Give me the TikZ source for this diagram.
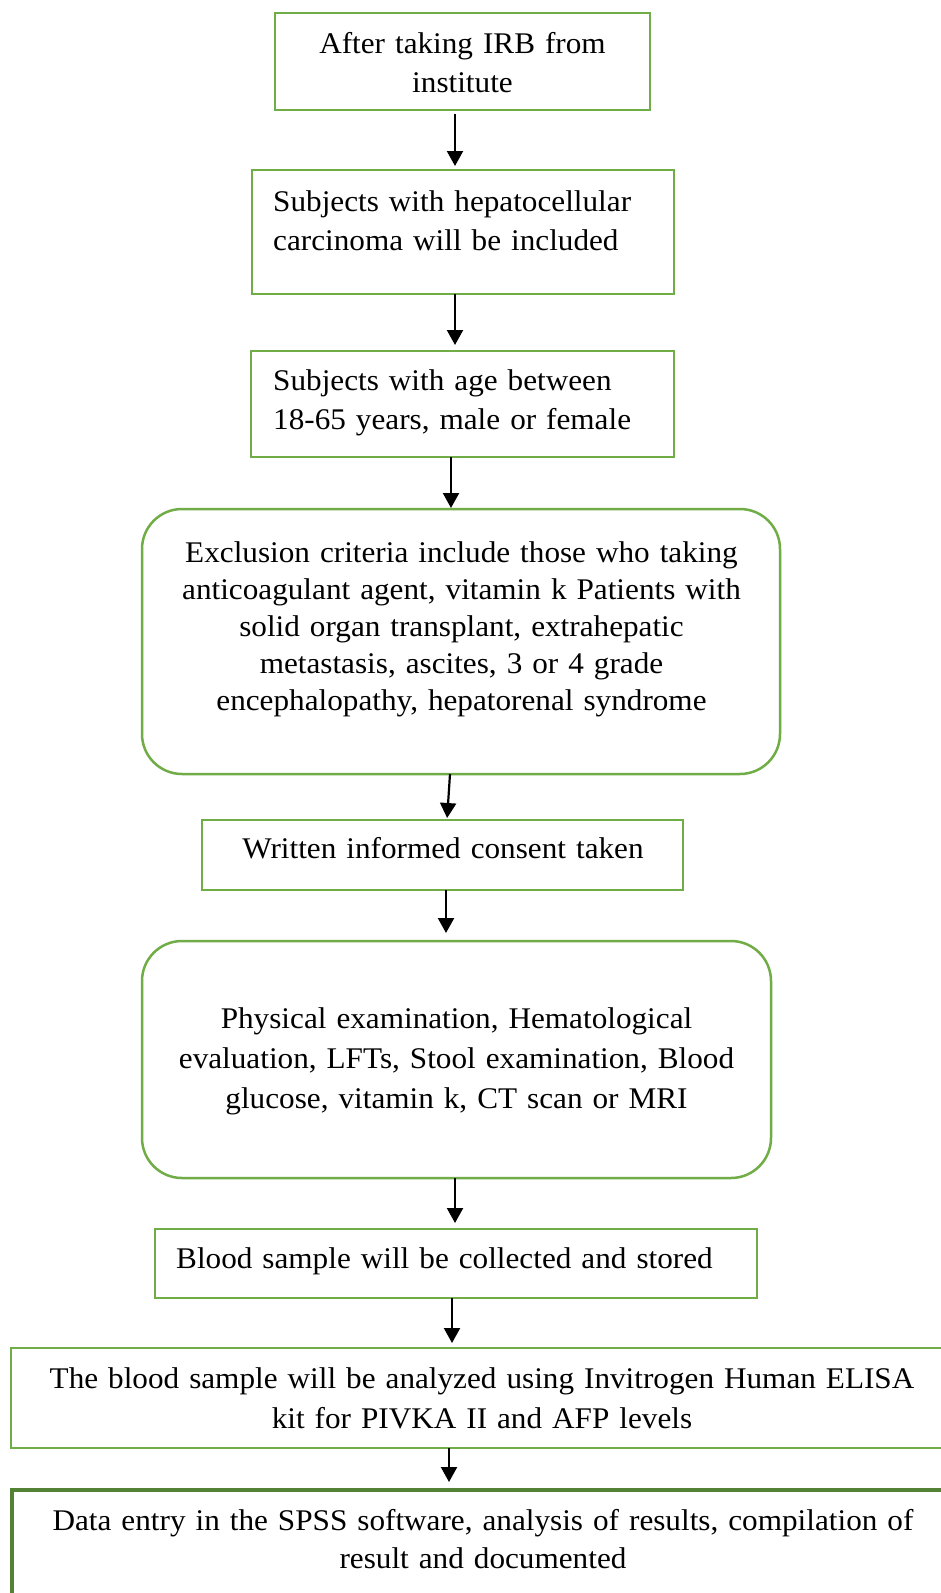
\documentclass[tikz,border=0pt]{standalone}
\usepackage{fontspec}
\setmainfont[FakeStretch=1.04]{Liberation Serif}
\usetikzlibrary{arrows.meta}
\definecolor{boxgreen}{HTML}{70AD47}
\definecolor{darkgreen}{HTML}{548235}
\newcommand\setfs[1]{\fontsize{30}{#1}\selectfont}
\tikzset{
  box/.style={draw=boxgreen, line width=2.5pt, inner sep=0pt, outer sep=0pt, rectangle},
  rbox/.style={box, rounded corners=40pt},
  tx/.style={inner sep=0pt, anchor=north, align=center, text width=930pt},
  txl/.style={inner sep=0pt, anchor=north west, align=left, text width=620pt},
  arr/.style={-{Triangle[length=15pt,width=16pt]}, line width=2.2pt}
}
\begin{document}
\begin{tikzpicture}[x=1pt,y=-1pt]
\clip (0,0) rectangle (941,1593);
\fill[white] (0,0) rectangle (941,1593);
% boxes
\node[box, minimum width=375pt, minimum height=97pt] (b1) at (462.5,61.5) {};
\node[box, minimum width=422pt, minimum height=124pt] (b2) at (463,232) {};
\node[box, minimum width=423pt, minimum height=106pt] (b3) at (462.5,404) {};
\node[rbox, minimum width=638pt, minimum height=265pt] (b4) at (461,641.5) {};
\node[box, minimum width=481pt, minimum height=70pt] (b5) at (442.5,855) {};
\node[rbox, minimum width=629pt, minimum height=237pt] (b6) at (456.5,1059.5) {};
\node[box, minimum width=602pt, minimum height=69pt] (b7) at (456,1263.5) {};
\node[box, minimum width=941pt, minimum height=100pt] (b8) at (481.5,1398) {};
\node[box, draw=darkgreen, line width=4pt, minimum width=940pt, minimum height=150pt] (b9) at (482,1565) {};
% texts
\node[tx, font=\setfs{39}] (t1) at (462.5,25.7) {\strut After taking IRB from\\institute};
\node[txl, font=\setfs{39}] (t2) at (273,184.2) {\strut Subjects with hepatocellular\\carcinoma will be included};
\node[txl, font=\setfs{38.6}] (t3) at (273,363.7) {\strut Subjects with age between\\18-65 years, male or female};
\node[tx, font=\setfs{36.8}] (t4) at (461.5,536.9) {\strut Exclusion criteria include those who taking\\anticoagulant agent, vitamin k Patients with\\solid organ transplant, extrahepatic\\metastasis, ascites, 3 or 4 grade\\encephalopathy, hepatorenal syndrome};
\node[tx, font=\setfs{39}] (t5) at (443,830.7) {\strut Written informed consent taken};
\node[tx, font=\setfs{40}] (t6) at (456.5,1000) {\strut Physical examination, Hematological\\evaluation, LFTs, Stool examination, Blood\\glucose, vitamin k, CT scan or MRI};
\node[txl, font=\setfs{39}] (t7) at (176,1240.7) {\strut Blood sample will be collected and stored};
\node[tx, font=\setfs{40}] (t8) at (482,1360) {\strut The blood sample will be analyzed using Invitrogen Human ELISA\\kit for PIVKA II and AFP levels};
\node[tx, font=\setfs{38}] (t9) at (483,1503.4) {\strut Data entry in the SPSS software, analysis of results, compilation of\\result and documented};
% arrows
\draw[arr, shorten <=4pt, shorten >=4pt] ([xshift=-7.5pt]b1.south) -- ([xshift=-8pt]b2.north);
\draw[arr, shorten >=6pt] ([xshift=-8pt]b2.south) -- ([xshift=-7.5pt]b3.north);
\draw[arr, shorten >=1pt] ([xshift=-11.5pt]b3.south) -- ([xshift=-10pt]b4.north);
\draw[arr, shorten >=2pt] ([xshift=-11pt]b4.south) -- ([xshift=4.5pt]b5.north);
\draw[arr, shorten >=8pt] ([xshift=3.5pt]b5.south) -- ([xshift=-10.5pt]b6.north);
\draw[arr, shorten >=6pt] ([xshift=-1.5pt]b6.south) -- ([xshift=-1pt]b7.north);
\draw[arr, shorten >=5pt] ([xshift=-4pt]b7.south) -- ([xshift=-29.5pt]b8.north);
\draw[arr, shorten >=8pt] ([xshift=-32.5pt]b8.south) -- ([xshift=-33pt]b9.north);
\end{tikzpicture}
\end{document}
